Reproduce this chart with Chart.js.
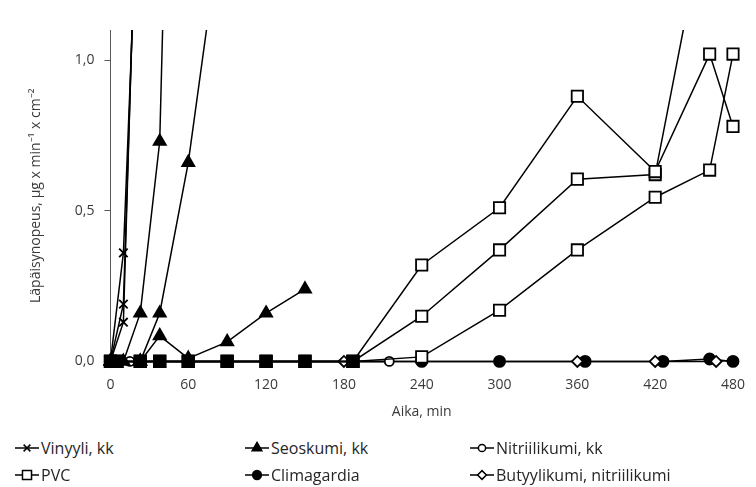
<!DOCTYPE html>
<html lang="fi">
<head>
  <meta charset="UTF-8" />
  <title>Läpäisynopeus</title>
  <script src="https://cdn.jsdelivr.net/npm/chart.js"></script>
  <style>
    body {
      margin: 0;
      background: #ffffff;
      font-family: 'Open Sans', sans-serif;
    }
    .wrap {
      position: relative;
      width: 756px;
      height: 487px;
    }
    .chart-box {
      position: absolute;
      left: 0;
      top: 0;
      width: 756px;
      height: 425px;
    }
    #selite {
      position: absolute;
      left: 13px;
      top: 434px;
      display: grid;
      grid-template-columns: 230px 225px 280px;
    }
    .item {
      display: flex;
      align-items: center;
      height: 27px;
      font-size: 16px;
      color: #262626;
    }
  </style>
</head>
<body>
  <div class="wrap">
    <div class="chart-box"><canvas id="kaavio"></canvas></div>
    <div id="selite"></div>
  </div>

  <script>
    // mittaukset, aika (min) ja läpäisynopeus
    const vinyyliAika = [0, 10, 20];
    const vinyyli1 = [0, 0.36, 1.45];
    const vinyyli2 = [0, 0.19, 1.55];
    const vinyyli3 = [0, 0.13, 1.6];

    const seoskumiAika1 = [0, 10, 23, 38, 45];
    const seoskumi1 = [0, 0, 0.16, 0.73, 1.9];
    const seoskumiAika2 = [0, 23, 38, 60, 75];
    const seoskumi2 = [0, 0, 0.16, 0.66, 1.13];
    const seoskumiAika3 = [0, 23, 38, 60, 90, 120, 150];
    const seoskumi3 = [0, 0, 0.085, 0.01, 0.065, 0.16, 0.24];

    const pvcAika = [0, 5, 23, 38, 60, 90, 120, 150, 187, 240, 300, 360, 420, 462, 480];
    const pvc1 = [0, 0, 0, 0, 0, 0, 0, 0, 0, 0.32, 0.51, 0.88, 0.63, 1.02, 0.78];
    const pvc2 = [0, 0, 0, 0, 0, 0, 0, 0, 0, 0.15, 0.37, 0.605, 0.62, 1.55];
    const pvc3 = [0, 0, 0, 0, 0, 0, 0, 0, 0, 0.015, 0.17, 0.37, 0.545, 0.635, 1.02];

    const nitriiliAika = [0, 15, 215];
    const nitriili = [0, 0, 0];

    const climaAika = [0, 240, 300, 366, 426, 462, 480];
    const clima = [0, 0, 0, 0, 0, 0.008, 0];

    const butyyliAika = [0, 180, 360, 420, 467];
    const butyyli = [0, 0, 0, 0, 0];

    const xTicks = [0, 60, 120, 180, 240, 300, 360, 420, 480];
    const yTicks = [0, 0.5, 1.0];

    const tyylit = {
      vinyyli: { label: 'Vinyyli, kk', pointStyle: 'crossRot', radius: 6, fill: false },
      seoskumi: { label: 'Seoskumi, kk', pointStyle: 'triangle', radius: 7, fill: true },
      nitriili: { label: 'Nitriilikumi, kk', pointStyle: 'circle', radius: 4.5, fill: false },
      pvc: { label: 'PVC', pointStyle: 'rect', radius: 8, fill: false },
      clima: { label: 'Climagardia', pointStyle: 'circle', radius: 5.5, fill: true },
      butyyli: { label: 'Butyylikumi, nitriilikumi', pointStyle: 'rectRot', radius: 5.5, fill: false }
    };

    const pisteet = (xs, ys) => ys.map((y, i) => ({ x: xs[i], y }));

    function sarja(avain, xs, ys) {
      const t = tyylit[avain];
      return {
        label: t.label,
        data: pisteet(xs, ys),
        borderColor: '#000',
        borderWidth: 1.5,
        pointStyle: t.pointStyle,
        pointRadius: t.radius,
        pointBorderColor: '#000',
        pointBorderWidth: 1.8,
        // nollatasolla päällekkäiset merkit näkyvät umpinaisina
        pointBackgroundColor: ctx => {
          if (t.fill) return '#000';
          if (avain === 'pvc' && ctx.raw && ctx.raw.y === 0) return '#000';
          return '#fff';
        },
        tension: 0,
        clip: { left: 12, right: 12, top: 0, bottom: 12 }
      };
    }

    const datasets = [
      sarja('pvc', pvcAika, pvc1),
      sarja('pvc', pvcAika, pvc2),
      sarja('pvc', pvcAika, pvc3),
      sarja('seoskumi', seoskumiAika1, seoskumi1),
      sarja('seoskumi', seoskumiAika2, seoskumi2),
      sarja('seoskumi', seoskumiAika3, seoskumi3),
      sarja('vinyyli', vinyyliAika, vinyyli1),
      sarja('vinyyli', vinyyliAika, vinyyli2),
      sarja('vinyyli', vinyyliAika, vinyyli3),
      sarja('nitriili', nitriiliAika, nitriili),
      sarja('butyyli', butyyliAika, butyyli),
      sarja('clima', climaAika, clima)
    ];

    const tekstiVari = '#3a3a3a';
    const akseliVari = '#595959';

    new Chart(document.getElementById('kaavio'), {
      type: 'line',
      data: { datasets },
      options: {
        responsive: true,
        maintainAspectRatio: false,
        animation: false,
        layout: { padding: { top: 30, right: 23, left: 23, bottom: 0 } },
        plugins: {
          legend: { display: false },
          tooltip: { enabled: false }
        },
        scales: {
          x: {
            type: 'linear',
            min: 0,
            max: 480,
            afterBuildTicks: s => { s.ticks = xTicks.map(v => ({ value: v })); },
            ticks: {
              color: tekstiVari,
              font: { family: 'Open Sans', size: 14 },
              padding: 7,
              maxRotation: 0
            },
            grid: { display: false },
            border: { color: akseliVari, width: 1 },
            title: {
              display: true,
              text: 'Aika, min',
              color: tekstiVari,
              font: { family: 'Open Sans', size: 14 },
              padding: { top: 3, bottom: 5 }
            }
          },
          y: {
            min: 0,
            max: 1.1,
            afterBuildTicks: s => { s.ticks = yTicks.map(v => ({ value: v })); },
            ticks: {
              color: tekstiVari,
              font: { family: 'Open Sans', size: 14 },
              padding: 10,
              callback: v => v.toFixed(1).replace('.', ',')
            },
            grid: {
              drawOnChartArea: false,
              drawTicks: true,
              tickLength: 6,
              color: akseliVari
            },
            border: { color: akseliVari, width: 1 },
            title: {
              display: true,
              text: 'Läpäisynopeus, µg x min⁻¹ x cm⁻²',
              color: tekstiVari,
              font: { family: 'Open Sans', size: 14 },
              padding: { top: 5, bottom: 20 }
            }
          }
        }
      }
    });

    // selite kolmeen sarakkeeseen
    const selite = document.getElementById('selite');
    ['vinyyli', 'seoskumi', 'nitriili', 'pvc', 'clima', 'butyyli'].forEach(avain => {
      const t = tyylit[avain];
      const item = document.createElement('div');
      item.className = 'item';
      const c = document.createElement('canvas');
      c.width = 28;
      c.height = 18;
      const ctx = c.getContext('2d');
      ctx.strokeStyle = '#000';
      ctx.lineWidth = 1.5;
      ctx.beginPath();
      ctx.moveTo(2, 9);
      ctx.lineTo(26, 9);
      ctx.stroke();
      ctx.fillStyle = t.fill ? '#000' : '#fff';
      Chart.helpers.drawPoint(ctx, {
        pointStyle: t.pointStyle,
        radius: t.radius * 0.8,
        borderWidth: 1.5,
        rotation: 0
      }, 14, 9);
      item.appendChild(c);
      const span = document.createElement('span');
      span.textContent = t.label;
      item.appendChild(span);
      selite.appendChild(item);
    });
  </script>
</body>
</html>
